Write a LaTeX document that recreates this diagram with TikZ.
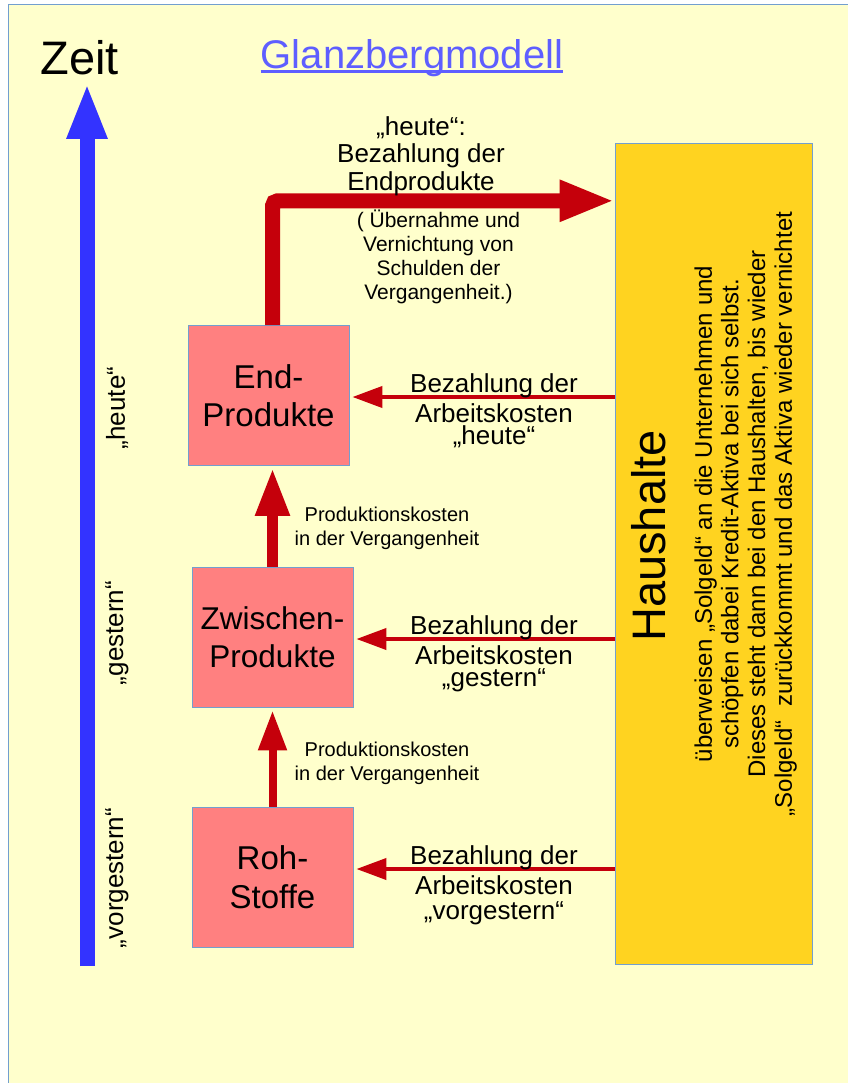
\documentclass[tikz,border=0pt]{standalone}
\usepackage{fontspec}
\setmainfont{Liberation Sans}
\usetikzlibrary{arrows.meta}

\definecolor{paper}{HTML}{FFFFCC}
\definecolor{frame}{HTML}{729FCF}
\definecolor{boxred}{HTML}{FF8080}
\definecolor{boxgold}{HTML}{FFD320}
\definecolor{flowred}{HTML}{C5000B}
\definecolor{timeblue}{HTML}{3333FF}
\definecolor{titleblue}{HTML}{5E5EFF}

\newcommand{\fs}[2]{\fontsize{#1}{#2}\selectfont}

\begin{document}
\begin{tikzpicture}[x=1pt,y=-1pt,
  prodbox/.style={draw=frame, line width=0.8pt, fill=boxred, minimum width=161pt,
    minimum height=140pt, inner sep=0pt, align=center, font=\fs{33}{38.5}},
  housebox/.style={draw=frame, line width=0.8pt, fill=boxgold, minimum width=197pt,
    minimum height=821pt, inner sep=0pt},
  bigflow/.style={draw=flowred, line width=15pt, rounded corners=5pt,
    -{Triangle[length=55pt,width=38pt]}},
  payflow/.style={draw=flowred, line width=4pt, shorten >=3pt,
    -{Triangle[length=30pt,width=21pt]}},
  costflow/.style={draw=flowred},
  timeflow/.style={draw=timeblue, line width=15pt,
    -{Triangle[length=56pt,width=37pt]}},
  paylabel/.style={inner sep=0pt, align=center, font=\fs{26}{30}},
  costlabel/.style={inner sep=0pt, align=center, font=\fs{20}{24}},
  daylabel/.style={inner sep=0pt, rotate=90, font=\fs{26}{30}},
]
\useasboundingbox (0,0) rectangle (848,1083);
\fill[white] (0,0) rectangle (848,1083);
\fill[paper] (8.5,4.7) rectangle (848,1083);
\draw[frame, line width=1pt] (8.5,1083) -- (8.5,4.7) -- (848,4.7);

% headings
\node[anchor=base, inner sep=0pt, font=\fs{47}{53}] (zeit) at (79.5,75) {Zeit};
\node[anchor=base, inner sep=0pt, font=\fs{40}{46}, text=titleblue] (title) at (412,68.5) {Glanzbergmodell};
\draw[titleblue, line width=2.6pt] ([yshift=-3pt]title.base west) -- ([yshift=-3pt]title.base east);

% time axis
\coordinate (tbase) at (87,966);
\coordinate (ttip) at (87,83);
\draw[timeflow] (tbase) -- (ttip);
\node[daylabel] (today) at (117,408) {„heute“};
\node[daylabel] (yday) at (117,633) {„gestern“};
\node[daylabel] (dbyday) at (117,878) {„vorgestern“};

% production stages
\node[prodbox] (end) at (268.5,395.5) {End-\\Produkte};
\node[prodbox, font=\fs{31.5}{38.5}] (mid) at (272.5,637) {Zwischen-\\Produkte};
\node[prodbox] (raw) at (272.5,877) {Roh-\\Stoffe};

% households
\node[housebox] (haus) at (713.5,553.5) {};
\node[inner sep=0pt, rotate=90, font=\fs{47}{54}] (hausname) at (648.5,536) {Haushalte};
\node[inner sep=0pt, rotate=90, align=center, font=\fs{24}{26.7}] (hausnote) at (745.6,514)
  {überweisen „Solgeld“ an die Unternehmen und\\
   schöpfen dabei Kredit-Aktiva bei sich selbst.\\
   Dieses steht dann bei den Haushalten, bis wieder\\
   „Solgeld“\ \ zurückkommt und das Aktiva wieder vernichtet};

% payment of the end products
\draw[bigflow] ([xshift=4pt]end.north) |- (haus.west |- 0,200.8);
\node[paylabel, font=\fs{26}{27.5}] (toplab) at (421,156) {„heute“:\\Bezahlung der\\Endprodukte};
\node[inner sep=0pt, align=center, font=\fs{21}{24}] (undo) at (438.5,257)
  {( Übernahme und\\Vernichtung von\\Schulden der\\Vergangenheit.)};

% wages
\draw[payflow] (haus.west |- 0,397) -- (end.east |- 0,397);
\draw[payflow] (haus.west |- 0,639) -- (mid.east |- 0,639);
\draw[payflow] (haus.west |- 0,869) -- (raw.east |- 0,869);
\node[paylabel] (paytoday) at (494,411) {Bezahlung der\\Arbeitskosten\\[-8pt]„heute“};
\node[paylabel] (payyday) at (494,654) {Bezahlung der\\Arbeitskosten\\[-8pt]„gestern“};
\node[paylabel] (paydbyday) at (494,885) {Bezahlung der\\Arbeitskosten\\[-5pt]„vorgestern“};

% costs carried forward
\draw[costflow, line width=11pt, shorten >=2pt, -{Triangle[length=48pt,width=32pt]}]
  (mid.north) -- (end.south -| mid.north);
\draw[costflow, line width=8pt, shorten >=3pt, -{Triangle[length=40pt,width=27pt]}]
  (raw.north) -- (mid.south);
\node[costlabel] (costup) at (387,528) {Produktionskosten\\in der Vergangenheit};
\node[costlabel] (costlow) at (387,763) {Produktionskosten\\in der Vergangenheit};
\end{tikzpicture}
\end{document}
